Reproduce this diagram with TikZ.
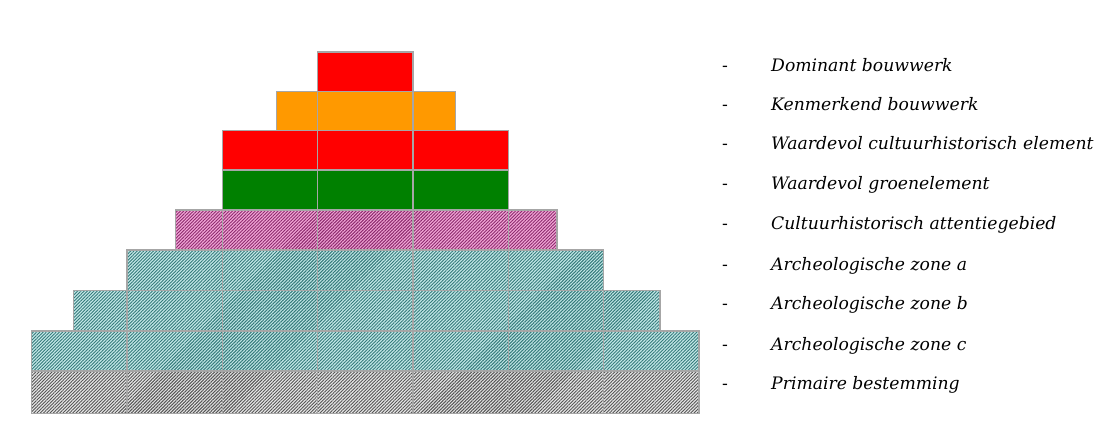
\documentclass[tikz,border=0pt]{standalone}
\usepackage{fontspec}
\setmainfont{DejaVu Serif}
\usetikzlibrary{patterns.meta}
\definecolor{gridc}{HTML}{A6A6A6}
\definecolor{redf}{HTML}{FF0000}
\definecolor{orangef}{HTML}{FF9900}
\definecolor{greenf}{HTML}{008000}
\definecolor{pinkbg}{HTML}{F2A6D6}
\definecolor{pinkfg}{HTML}{8C2A6E}
\definecolor{tealbg}{HTML}{C4E8E8}
\definecolor{tealfg}{HTML}{347A7A}
\definecolor{greybg}{HTML}{E8E8E8}
\definecolor{greyfg}{HTML}{555555}
\tikzset{
  cell/.style={draw=gridc, line width=1.4pt},
  redcell/.style={cell, fill=redf},
  orangecell/.style={cell, fill=orangef},
  greencell/.style={cell, fill=greenf},
  hatch/.style 2 args={cell, preaction={fill=#1},
     pattern={Lines[angle=45,distance=2.3pt,line width=0.95pt]}, pattern color=#2},
  pinkcell/.style={hatch={pinkbg}{pinkfg}},
  tealcell/.style={hatch={tealbg}{tealfg}},
  greycell/.style={hatch={greybg}{greyfg}},
  lab/.style={anchor=base west, inner sep=0pt, font=\fontsize{17.2}{20}\selectfont\itshape},
  dashlab/.style={anchor=base, inner sep=0pt, font=\fontsize{17.2}{20}\selectfont},
}
\begin{document}
\begin{tikzpicture}[x=1pt,y=-1pt]
\useasboundingbox (0,0) rectangle (1114,437);
% row 1
\draw[redcell] (317.6,52) rectangle (412.9,91.5);
% row 2
\foreach \xa/\xb in {276.7/317.6,317.6/412.9,412.9/455.3}
  \draw[orangecell] (\xa,91.5) rectangle (\xb,130.5);
% row 3
\foreach \xa/\xb in {222.3/317.6,317.6/412.9,412.9/508.2}
  \draw[redcell] (\xa,130.5) rectangle (\xb,170);
% row 4
\foreach \xa/\xb in {222.3/317.6,317.6/412.9,412.9/508.2}
  \draw[greencell] (\xa,170) rectangle (\xb,210);
% row 5
\foreach \xa/\xb in {175.7/222.3,222.3/317.6,317.6/412.9,412.9/508.2,508.2/557}
  \draw[pinkcell] (\xa,210) rectangle (\xb,250);
% row 6
\foreach \xa/\xb in {127/222.3,222.3/317.6,317.6/412.9,412.9/508.2,508.2/603.5}
  \draw[tealcell] (\xa,250) rectangle (\xb,290.5);
% row 7
\foreach \xa/\xb in {73.3/127,127/222.3,222.3/317.6,317.6/412.9,412.9/508.2,508.2/603.5,603.5/660}
  \draw[tealcell] (\xa,290.5) rectangle (\xb,331);
% row 8
\foreach \xa/\xb in {31.7/127,127/222.3,222.3/317.6,317.6/412.9,412.9/508.2,508.2/603.5,603.5/698.8}
  \draw[tealcell] (\xa,331) rectangle (\xb,371);
% row 9
\foreach \xa/\xb in {31.7/127,127/222.3,222.3/317.6,317.6/412.9,412.9/508.2,508.2/603.5,603.5/698.8}
  \draw[greycell] (\xa,371) rectangle (\xb,413.5);
% legend
\foreach \i/\y/\t in {1/71/Dominant bouwwerk,
                      2/110/Kenmerkend bouwwerk,
                      3/149/Waardevol cultuurhistorisch element,
                      4/189/Waardevol groenelement,
                      5/229/Cultuurhistorisch attentiegebied,
                      6/270/Archeologische zone a,
                      7/309/Archeologische zone b,
                      8/350/Archeologische zone c,
                      9/389/Primaire bestemming}{
  \node[dashlab] (d\i) at (725,\y) {-};
  \node[lab] (l\i) at (771,\y) {\t};
}
\end{tikzpicture}
\end{document}
